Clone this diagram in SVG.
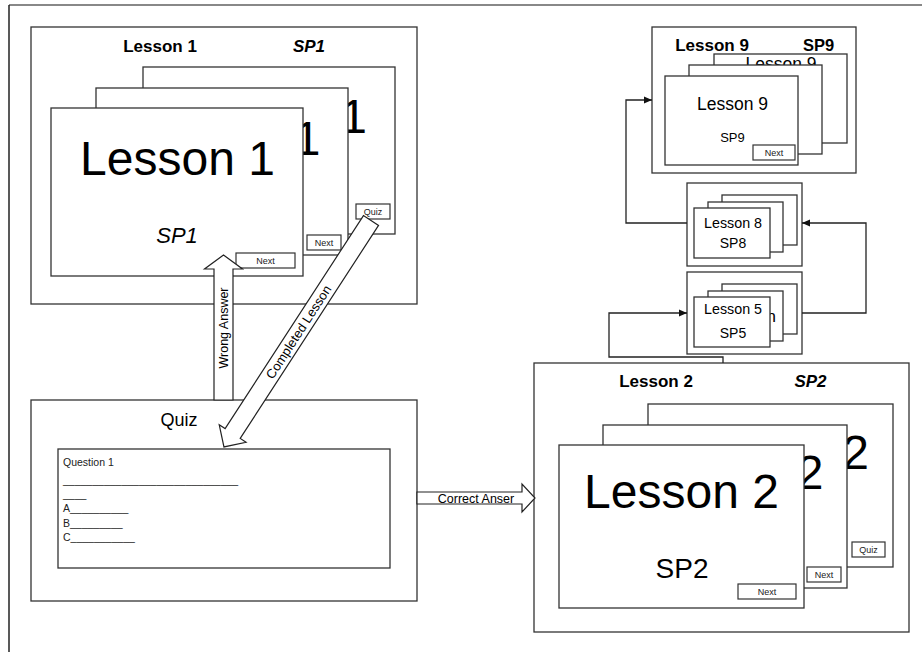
<svg xmlns="http://www.w3.org/2000/svg" width="922" height="652" viewBox="0 0 922 652">
<defs>
<style>
.box{fill:#fff;stroke:#333;stroke-width:1.3}
.card{fill:#fff;stroke:#333;stroke-width:1.3}
.btn{fill:#fff;stroke:#333;stroke-width:1.2}
.t{font-family:"Liberation Sans",Arial,sans-serif;fill:#000;text-anchor:middle}
.b{font-weight:bold}
.i{font-style:italic}
.btxt{font-family:"Liberation Sans",Arial,sans-serif;font-size:9px;fill:#222;text-anchor:middle}
.conn{fill:none;stroke:#222;stroke-width:1.3}
.blk{fill:#fff;stroke:#222;stroke-width:1.2;stroke-linejoin:miter}
.q{font-family:"Liberation Sans",Arial,sans-serif;font-size:10.5px;fill:#222}
</style>
<marker id="ah" viewBox="0 0 8 8" refX="8" refY="4" markerWidth="8" markerHeight="8" markerUnits="userSpaceOnUse" orient="auto">
<path d="M0,0.5 L8,4 L0,7.5 Z" fill="#111"/>
</marker>
</defs>
<rect width="922" height="652" fill="#fff"/>
<g id="frame">
<line x1="9" y1="5" x2="922" y2="5" stroke="#888" stroke-width="2"/>
<line x1="9" y1="5" x2="9" y2="652" stroke="#222" stroke-width="1.5"/>
</g>

<g id="lesson1">
<rect class="box" x="31" y="27" width="386" height="277"/>
<text class="t b" x="160" y="52" font-size="17">Lesson 1</text>
<text class="t b i" x="309" y="52" font-size="17">SP1</text>
<rect class="card" x="143" y="67" width="252" height="167"/>
<text class="t" x="269.5" y="133" font-size="48">Lesson 1</text>
<rect class="btn" x="356" y="204" width="34" height="15"/>
<text class="btxt" x="373" y="215">Quiz</text>
<rect class="card" x="96" y="88" width="252" height="167"/>
<text class="t" x="223" y="155" font-size="48">Lesson 1</text>
<rect class="btn" x="307" y="235" width="34" height="15"/>
<text class="btxt" x="324" y="246">Next</text>
<rect class="card" x="51" y="108" width="252" height="168"/>
<text class="t" x="177.5" y="175" font-size="48">Lesson 1</text>
<text class="t i" x="177" y="243" font-size="22">SP1</text>
<rect class="btn" x="236" y="253" width="59" height="15"/>
<text class="btxt" x="265.5" y="264">Next</text>
</g>

<g id="quiz">
<rect class="box" x="31" y="400" width="386" height="201"/>
<text class="t" x="179" y="426" font-size="18">Quiz</text>
<rect class="box" x="58" y="449" width="332" height="119"/>
<text class="q" x="63" y="466">Question 1</text>
<text class="q" x="63" y="484">______________________________</text>
<text class="q" x="63" y="498">____</text>
<text class="q" x="63" y="512">A__________</text>
<text class="q" x="63" y="527">B_________</text>
<text class="q" x="63" y="541">C___________</text>
</g>

<g id="lesson2">
<rect class="box" x="534" y="363" width="375" height="269"/>
<text class="t b" x="656" y="387" font-size="17">Lesson 2</text>
<text class="t b i" x="810.5" y="387" font-size="17">SP2</text>
<rect class="card" x="648" y="404" width="245" height="163"/>
<text class="t" x="771.5" y="469" font-size="48">Lesson 2</text>
<rect class="btn" x="852" y="542" width="33" height="15"/>
<text class="btxt" x="868.5" y="553">Quiz</text>
<rect class="card" x="603" y="425" width="244" height="163"/>
<text class="t" x="726" y="489" font-size="48">Lesson 2</text>
<rect class="btn" x="807" y="567" width="34" height="15"/>
<text class="btxt" x="824" y="578">Next</text>
<rect class="card" x="559" y="445" width="245" height="163"/>
<text class="t" x="681.5" y="508" font-size="48">Lesson 2</text>
<text class="t" x="682" y="578" font-size="28">SP2</text>
<rect class="btn" x="738" y="584" width="58" height="15"/>
<text class="btxt" x="767" y="595">Next</text>
</g>

<g id="lesson9">
<rect class="box" x="652" y="27" width="204" height="146"/>
<text class="t b" x="712" y="51" font-size="17">Lesson 9</text>
<text class="t b" x="818.5" y="51" font-size="16.5">SP9</text>
<rect class="card" x="714" y="54" width="133" height="89"/>
<text class="t" x="781" y="70" font-size="17.5">Lesson 9</text>
<rect class="card" x="689" y="65" width="133" height="89"/>
<rect class="card" x="665" y="76" width="133" height="89"/>
<text class="t" x="732.5" y="110" font-size="17.5">Lesson 9</text>
<text class="t" x="732.5" y="142" font-size="13">SP9</text>
<rect class="btn" x="753" y="145" width="42" height="15"/>
<text class="btxt" x="774" y="156">Next</text>
</g>

<g id="lesson8">
<rect class="box" x="687" y="183" width="115" height="83"/>
<rect class="card" x="722" y="195" width="75" height="50"/>
<rect class="card" x="708" y="202" width="75" height="50"/>
<rect class="card" x="694" y="208" width="76" height="50"/>
<text class="t" x="733" y="228" font-size="14.3">Lesson 8</text>
<text class="t" x="733" y="248" font-size="14">SP8</text>
</g>

<g id="lesson5">
<rect class="box" x="687" y="272" width="115" height="82"/>
<rect class="card" x="722" y="284" width="75" height="50"/>
<rect class="card" x="708" y="291" width="75" height="50"/>
<text class="t" x="776" y="322" font-size="17" text-anchor="end" style="text-anchor:end">Lesson</text>
<rect class="card" x="694" y="297" width="76" height="50"/>
<text class="t" x="733" y="314" font-size="14.3">Lesson 5</text>
<text class="t" x="733" y="338" font-size="14">SP5</text>
</g>

<g id="connectors">
<path class="conn" d="M687,223 H626 V100 H652" marker-end="url(#ah)"/>
<path class="conn" d="M802,313 H866 V223 H802" marker-end="url(#ah)"/>
<path class="conn" d="M723,363 V357 H609 V313 H687" marker-end="url(#ah)"/>
<g id="wrong-answer">
<polygon class="blk" points="214,400 214,269 204.5,269 223.5,255 242.5,269 233,269 233,400"/>
<text class="t" transform="translate(224,328) rotate(-90)" font-size="12.5" dominant-baseline="central">Wrong Answer</text>
</g>
<g id="completed-lesson">
<polygon class="blk" transform="translate(371,220.5) rotate(123)" points="0,-9 254,-9 254,-16 270,0 254,16 254,9 0,9"/>
<text class="t" transform="translate(298.6,332) rotate(-57)" font-size="13" dominant-baseline="central">Completed Lesson</text>
</g>
<g id="correct-answer">
<polygon class="blk" points="417,492 522,492 522,484 535,498 522,512 522,504 417,504"/>
<text class="t" x="476" y="502.5" font-size="12.5">Correct Anser</text>
</g>
</g>
</svg>
